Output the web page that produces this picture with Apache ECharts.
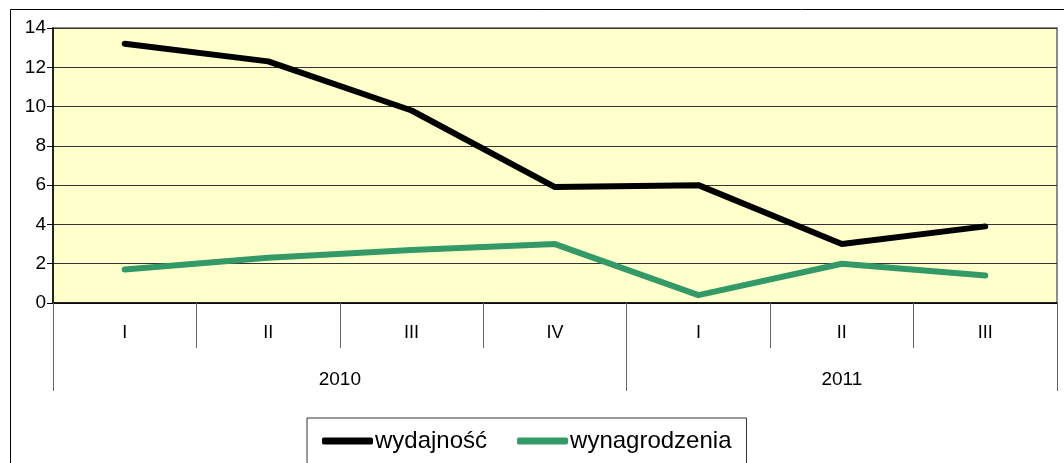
<!DOCTYPE html>
<html>
<head>
<meta charset="utf-8">
<script src="https://cdn.jsdelivr.net/npm/echarts@6/dist/echarts.min.js"></script>
<style>
  html, body { margin: 0; padding: 0; background: #fff; }
  #chart { width: 1064px; height: 463px; }
</style>
</head>
<body>
<div id="chart"></div>
<script>
const quarters = ['I', 'II', 'III', 'IV', 'I', 'II', 'III']
const years = ['2010', '2011']
const yearSpans = [4, 3] // quarters per year
const wydajnosc = [13.2, 12.3, 9.8, 5.9, 6.0, 3.0, 3.9]
const wynagrodzenia = [1.7, 2.3, 2.7, 3.0, 0.4, 2.0, 1.4]

// year boundaries and label centres in quarter units
const yearEdges = [0]
const yearCentres = []
yearSpans.forEach((n, i) => {
  yearCentres.push(yearEdges[i] + n / 2)
  yearEdges.push(yearEdges[i] + n)
})

const font = 'Liberation Sans, Arial, sans-serif'
const chart = echarts.init(document.getElementById('chart'))

chart.setOption({
  animation: false,
  textStyle: { fontFamily: font },
  graphic: [{
    type: 'rect',
    shape: { x: 10.5, y: 9.5, width: 1100, height: 500 },
    style: { fill: 'none', stroke: '#000', lineWidth: 1 },
    silent: true
  }],
  grid: {
    left: 53, right: 7, top: 28, bottom: 160,
    show: true,
    backgroundColor: '#FFFFCC',
    borderColor: '#8c8c8c',
    borderWidth: 2
  },
  legend: {
    left: 307,
    top: 418,
    padding: [11, 15, 40, 15],
    borderColor: '#333',
    borderWidth: 1,
    icon: 'roundRect',
    itemWidth: 51,
    itemHeight: 7,
    itemGap: 30,
    textStyle: { fontSize: 24, color: '#000', fontFamily: font, padding: [0, 0, 0, -3] },
    data: ['wydajność', 'wynagrodzenia']
  },
  xAxis: [
    {
      type: 'category',
      data: quarters,
      boundaryGap: true,
      axisLine: { lineStyle: { color: '#000', width: 1.5 } },
      axisTick: { show: true, interval: 0, length: 45, lineStyle: { color: '#666' } },
      axisLabel: { interval: 0, margin: 21, fontSize: 18, color: '#000' }
    },
    {
      type: 'value',
      min: 0,
      max: yearEdges[yearEdges.length - 1],
      position: 'bottom',
      axisLine: { show: false },
      splitLine: { show: false },
      axisTick: { show: true, customValues: yearEdges, length: 88, lineStyle: { color: '#666' } },
      axisLabel: {
        customValues: yearCentres,
        margin: 67,
        fontSize: 19,
        color: '#000',
        formatter: (v) => years[yearCentres.indexOf(v)] || ''
      }
    }
  ],
  yAxis: {
    type: 'value',
    min: 0,
    max: 14,
    interval: 2,
    axisLine: { show: true, lineStyle: { color: '#000', width: 1.5 } },
    axisTick: { show: true, length: 6, lineStyle: { color: '#000' } },
    axisLabel: { margin: 7, fontSize: 19, color: '#000' },
    splitLine: { lineStyle: { color: '#333', width: 1 } }
  },
  series: [
    {
      name: 'wydajność',
      type: 'line',
      xAxisIndex: 0,
      data: wydajnosc,
      symbol: 'none',
      color: '#000',
      lineStyle: { color: '#000', width: 6, cap: 'round', join: 'round' }
    },
    {
      name: 'wynagrodzenia',
      type: 'line',
      xAxisIndex: 0,
      data: wynagrodzenia,
      symbol: 'none',
      color: '#339966',
      lineStyle: { color: '#339966', width: 6, cap: 'round', join: 'round' }
    }
  ]
})
</script>
</body>
</html>
